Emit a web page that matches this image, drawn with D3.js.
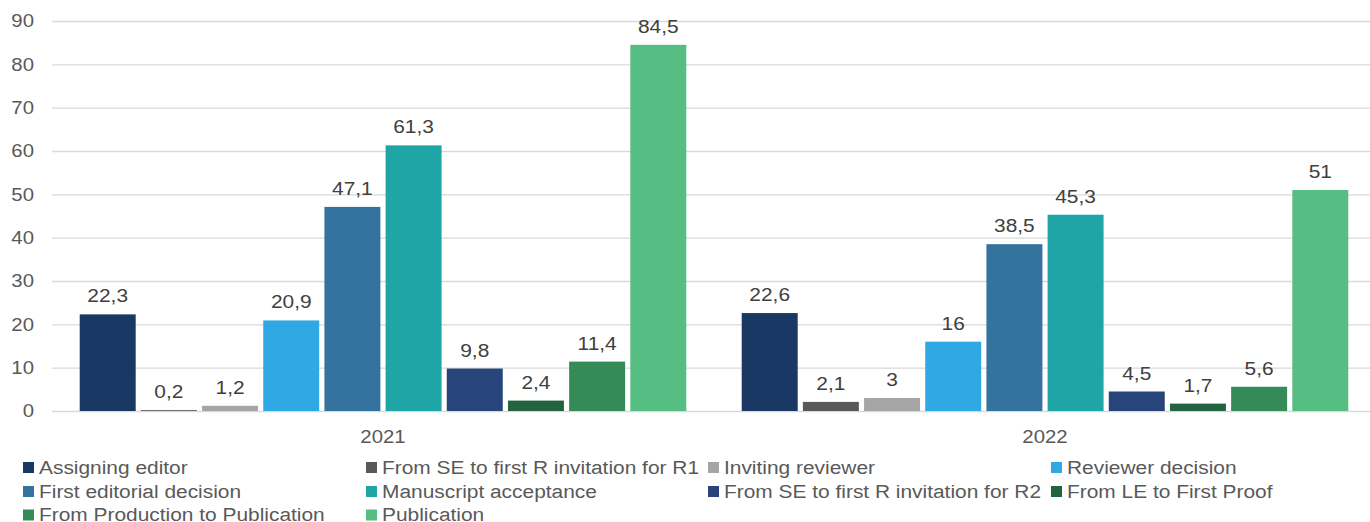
<html lang="en">
<head>
  <meta charset="UTF-8"/>
  <title>Bar chart with D3.js</title>
  <script src="https://d3js.org/d3.v7.min.js"></script>
  <style>
    body { margin: 0; background: #fff; }
    svg { display: block; font-family: 'Liberation Sans', Arial, sans-serif; }
    .grid line { stroke: #d9d9d9; stroke-width: 1.3; }
    .grid .domain { display: none; }
  </style>
</head>
<body>
  <svg width="1370" height="522"></svg>

  <script>

  const years = ['2021', '2022'];

  const series = [
    'Assigning editor',
    'From SE to first R invitation for R1',
    'Inviting reviewer',
    'Reviewer decision',
    'First editorial decision',
    'Manuscript acceptance',
    'From SE to first R invitation for R2',
    'From LE to First Proof',
    'From Production to Publication',
    'Publication'
  ];

  const values2021 = [22.3, 0.2, 1.2, 20.9, 47.1, 61.3, 9.8, 2.4, 11.4, 84.5];
  const values2022 = [22.6, 2.1, 3, 16, 38.5, 45.3, 4.5, 1.7, 5.6, 51];

  const colors = ['#193864', '#595959', '#a5a5a5', '#30a8e3', '#35739f',
                  '#20a5a6', '#27457b', '#22643f', '#358b58', '#57be83'];

  const yTicks = [0, 10, 20, 30, 40, 50, 60, 70, 80, 90];

  const data = years.map((yr, i) => ({
    year: yr,
    values: (i === 0 ? values2021 : values2022).map((v, j) => ({ name: series[j], value: v }))
  }));

  const svg = d3.select('svg');

  const plotLeft = 52, plotRight = 1370, plotTop = 21, plotBottom = 411;
  const stretch = 'scale(1.1, 1)';   // the reference text is a bit wide

  const x0 = d3.scaleBand()
    .domain(years)
    .range([plotLeft, 1376])
    .paddingInner(0.068)
    .paddingOuter(0.034);

  const x1 = d3.scaleBand()
    .domain(series)
    .range([0, x0.bandwidth()])
    .padding(0.085);

  const yScale = d3.scaleLinear()
    .domain([0, 90])
    .range([plotBottom, plotTop]);

  // grid lines
  svg.append('g')
    .attr('class', 'grid')
    .attr('transform', `translate(${plotLeft}, 0)`)
    .call(d3.axisLeft(yScale).tickValues(yTicks).tickSize(-(plotRight - plotLeft)).tickFormat(''));

  // y tick labels
  svg.append('g')
    .selectAll('text')
    .data(yTicks)
    .join('text')
    .attr('transform', (d) => `translate(34, ${yScale(d)}) ${stretch}`)
    .attr('dy', '0.35em')
    .attr('text-anchor', 'end')
    .attr('fill', '#595959')
    .style('font-size', '18.5px')
    .text((d) => d);

  const groups = svg.selectAll('.group')
    .data(data)
    .join('g')
    .attr('class', 'group')
    .attr('transform', (d) => `translate(${x0(d.year)}, 0)`);

  groups.selectAll('rect')
    .data((d) => d.values)
    .join('rect')
    .attr('x', (d) => x1(d.name))
    .attr('y', (d) => yScale(d.value))
    .attr('width', x1.bandwidth())
    .attr('height', (d) => yScale(0) - yScale(d.value))
    .attr('fill', (d, i) => colors[i]);

  groups.selectAll('.value')
    .data((d) => d.values)
    .join('text')
    .attr('class', 'value')
    .attr('transform', (d) => `translate(${x1(d.name) + x1.bandwidth() / 2}, ${yScale(d.value) - 12}) ${stretch}`)
    .attr('text-anchor', 'middle')
    .attr('fill', '#404040')
    .style('font-size', '19px')
    .text((d) => String(d.value).replace('.', ','));

  // category labels
  svg.append('g')
    .selectAll('text')
    .data(years)
    .join('text')
    .attr('transform', (d) => `translate(${x0(d) + x0.bandwidth() / 2}, 443) ${stretch}`)
    .attr('text-anchor', 'middle')
    .attr('fill', '#595959')
    .style('font-size', '18.5px')
    .text((d) => d);

  // legend
  const legendX = [23, 366, 708, 1051];
  const legendY = [467.5, 491.5, 515];

  const legend = svg.append('g')
    .selectAll('g')
    .data(series)
    .join('g')
    .attr('transform', (d, i) => `translate(${legendX[i % 4]}, ${legendY[Math.floor(i / 4)]})`);

  legend.append('rect')
    .attr('x', 0)
    .attr('y', -5.5)
    .attr('width', 11)
    .attr('height', 11)
    .attr('fill', (d, i) => colors[i]);

  legend.append('text')
    .attr('transform', `translate(16, 6) ${stretch}`)
    .attr('fill', '#595959')
    .style('font-size', '19px')
    .text((d) => d);

  </script>
</body>
</html>
